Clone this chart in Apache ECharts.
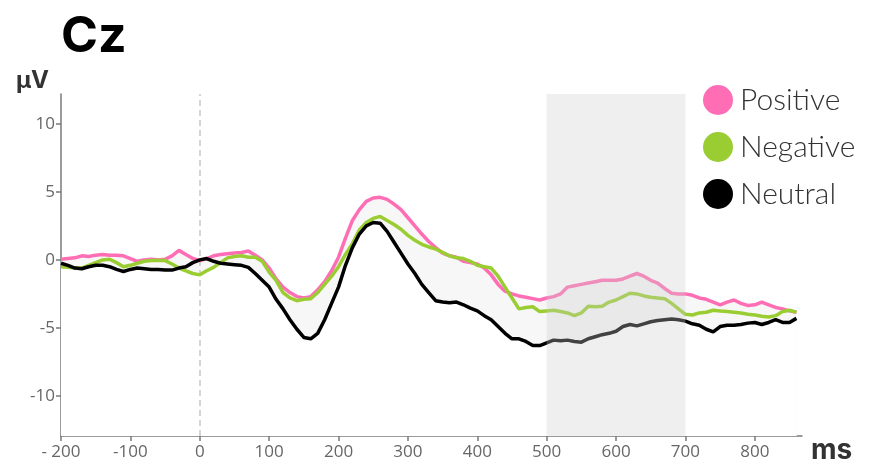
<!DOCTYPE html>
<html>
<head>
<meta charset="utf-8">
<script src="https://cdn.jsdelivr.net/npm/echarts@6/dist/echarts.min.js"></script>
<style>html,body{margin:0;padding:0;background:#fff;}#c{width:869px;height:466px;}</style>
</head>
<body>
<div id="c"></div>
<script>
const times = [-200,-190,-180,-170,-160,-150,-140,-130,-120,-110,-100,-90,-80,-70,-60,-50,-40,-30,-20,-10,
0,10,20,30,40,50,60,70,80,90,100,110,120,130,140,150,160,170,180,190,
200,210,220,230,240,250,260,270,280,290,300,310,320,330,340,350,360,370,380,390,
400,410,420,430,440,450,460,470,480,490,500,510,520,530,540,550,560,570,580,590,
600,610,620,630,640,650,660,670,680,690,700,710,720,730,740,750,760,770,780,790,
800,810,820,830,840,850,860];

const positive = [0.05,0.1,0.15,0.3,0.25,0.35,0.4,0.35,0.35,0.3,0.1,-0.1,0.0,0.05,0.0,0.05,0.3,0.7,0.4,0.1,
-0.05,0.1,0.3,0.4,0.45,0.5,0.55,0.65,0.35,0.0,-0.6,-1.4,-2.0,-2.4,-2.7,-2.8,-2.7,-2.2,-1.6,-0.8,
0.2,1.6,2.9,3.7,4.3,4.55,4.6,4.45,4.1,3.7,3.1,2.5,1.9,1.35,0.9,0.5,0.3,0.2,-0.1,-0.2,
-0.3,-0.6,-1.1,-1.8,-2.3,-2.5,-2.65,-2.75,-2.85,-2.95,-2.8,-2.7,-2.5,-2.0,-1.9,-1.8,-1.7,-1.6,-1.5,-1.5,
-1.5,-1.4,-1.2,-1.0,-1.2,-1.5,-1.7,-2.1,-2.45,-2.5,-2.5,-2.6,-2.8,-2.9,-3.1,-3.3,-3.1,-2.95,-3.2,-3.35,
-3.3,-3.1,-3.3,-3.5,-3.6,-3.75,-3.85];

const negative = [-0.5,-0.55,-0.6,-0.6,-0.4,-0.2,0.0,0.05,-0.2,-0.5,-0.4,-0.25,-0.1,-0.05,-0.05,-0.05,-0.3,-0.6,-0.8,-1.0,
-1.1,-0.8,-0.55,-0.2,0.15,0.25,0.3,0.2,0.2,-0.1,-0.9,-1.5,-2.4,-2.8,-3.0,-2.9,-2.85,-2.4,-1.8,-1.2,
-0.5,0.4,1.2,2.2,2.75,3.05,3.2,2.9,2.6,2.25,1.8,1.45,1.15,0.95,0.8,0.55,0.3,0.15,0.1,-0.1,
-0.4,-0.5,-0.6,-1.2,-2.0,-2.8,-3.6,-3.5,-3.45,-3.8,-3.75,-3.7,-3.8,-3.9,-4.1,-3.9,-3.4,-3.45,-3.4,-3.1,
-2.95,-2.7,-2.45,-2.5,-2.65,-2.75,-2.8,-2.85,-3.2,-3.6,-4.0,-4.05,-3.9,-3.85,-3.7,-3.75,-3.8,-3.85,-3.9,-4.0,
-4.05,-4.15,-4.2,-4.1,-3.8,-3.7,-3.85];

const neutral = [-0.25,-0.4,-0.6,-0.65,-0.5,-0.4,-0.4,-0.5,-0.7,-0.85,-0.7,-0.6,-0.65,-0.7,-0.7,-0.75,-0.75,-0.6,-0.5,-0.2,
0.0,0.1,-0.1,-0.25,-0.3,-0.35,-0.4,-0.55,-1.0,-1.5,-2.0,-2.9,-3.6,-4.4,-5.1,-5.7,-5.8,-5.4,-4.4,-3.2,
-2.0,-0.4,0.9,1.9,2.5,2.75,2.7,2.1,1.3,0.5,-0.3,-1.0,-1.8,-2.4,-3.0,-3.1,-3.15,-3.1,-3.3,-3.55,
-3.75,-4.1,-4.4,-4.9,-5.4,-5.8,-5.8,-6.0,-6.3,-6.3,-6.1,-5.9,-5.95,-5.9,-6.0,-6.05,-5.8,-5.65,-5.5,-5.4,
-5.25,-4.9,-4.75,-4.85,-4.7,-4.55,-4.45,-4.4,-4.35,-4.4,-4.5,-4.7,-4.8,-5.1,-5.3,-4.9,-4.8,-4.8,-4.75,-4.65,
-4.6,-4.75,-4.6,-4.4,-4.6,-4.6,-4.3];

const xTicks = [-200,-100,0,100,200,300,400,500,600,700,800];
const yTicks = [-10,-5,0,5,10];
const windowRange = [500, 700];
const seriesNames = ['Positive','Negative','Neutral'];

const upperEnv = times.map((t,i)=>[t, Math.max(positive[i],negative[i],neutral[i])]);
const lowerEnv = times.map((t,i)=>[t, Math.min(positive[i],negative[i],neutral[i])]);
const pair = arr => times.map((t,i)=>[t, arr[i]]);

const axisColor = '#7a7a7a';
const chart = echarts.init(document.getElementById('c'), null, {renderer:'canvas'});
chart.setOption({
  animation: false,
  backgroundColor: '#fff',
  title: [
    {text:'Cz', left:56, top:7, textStyle:{fontFamily:'Inter', fontWeight:700, fontSize:50, color:'#000'}},
    {text:'μV', left:11, top:64, textStyle:{fontFamily:'Inter', fontWeight:700, fontSize:24, color:'#333'}},
    {text:'ms', left:806, top:432, textStyle:{fontFamily:'Inter', fontWeight:700, fontSize:28, color:'#333'}}
  ],
  legend: {
    data: seriesNames,
    orient: 'vertical',
    left: 698, top: 80,
    icon: 'circle',
    itemWidth: 30, itemHeight: 30,
    itemGap: 17,
    textStyle: {fontFamily:'Lato', fontWeight:300, fontSize:30, color:'#333', lineHeight:30, padding:[0,0,0,2]}
  },
  grid: {left:61, right:67, top:94, bottom:30, containLabel:false},
  xAxis: {
    type:'value', min:-200, max:868,
    splitLine:{show:false},
    axisLine:{show:true, onZero:false, lineStyle:{color:axisColor, width:1.5}},
    axisTick:{show:true, length:5, lineStyle:{color:axisColor, width:1.5}, customValues:xTicks},
    axisLabel:{customValues:xTicks, margin:8, fontFamily:'Open Sans', fontSize:17, color:'#666',
      formatter: v => v === -200 ? '- 200' : String(v)}
  },
  yAxis: {
    type:'value', min:-12.95, max:12.2,
    splitLine:{show:false},
    axisLine:{show:true, onZero:false, lineStyle:{color:axisColor, width:1.5}},
    axisTick:{show:true, length:5, lineStyle:{color:axisColor, width:1.5}, customValues:yTicks},
    axisLabel:{customValues:yTicks, margin:6, fontFamily:'Open Sans', fontSize:17, color:'#666'}
  },
  series: [
    {name:'_upper', type:'line', data:upperEnv, symbol:'none', lineStyle:{width:0, opacity:0},
      areaStyle:{color:'#f7f7f7', opacity:1, origin:'start'}, silent:true, z:1},
    {name:'_lower', type:'line', data:lowerEnv, symbol:'none', lineStyle:{width:0, opacity:0},
      areaStyle:{color:'#ffffff', opacity:1, origin:'start'}, silent:true, z:1},
    {name:'_zero', type:'line', data:[], z:2, silent:true,
      markLine:{silent:true, z:2, symbol:['none','none'], label:{show:false},
        lineStyle:{color:'#d4d4d4', type:[6,4], width:2}, data:[{xAxis:0}]}},
    {name:'Positive', type:'line', data:pair(positive), symbol:'none', color:'#ff6eb4', lineStyle:{width:3.5, color:'#ff6eb4'}, z:3},
    {name:'Negative', type:'line', data:pair(negative), symbol:'none', color:'#9acd32', lineStyle:{width:3.5, color:'#9acd32'}, z:3},
    {name:'Neutral', type:'line', data:pair(neutral), symbol:'none', color:'#000', lineStyle:{width:3.5, color:'#000'}, z:3},
    {name:'_window', type:'line', data:[], z:10, silent:true,
      markArea:{silent:true, z:10, itemStyle:{color:'rgba(205,205,205,0.32)'}, data:[[{xAxis:windowRange[0]},{xAxis:windowRange[1]}]]}}
  ]
});
</script>
</body>
</html>
